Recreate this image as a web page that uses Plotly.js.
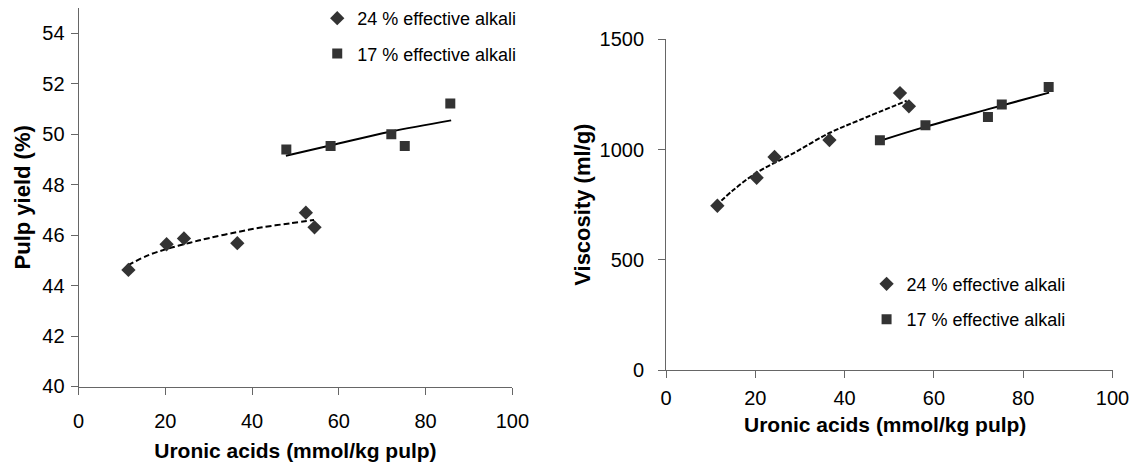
<!DOCTYPE html>
<html><head><meta charset="utf-8">
<script src="https://cdn.plot.ly/plotly-3.0.1.min.js"></script>
<style>html,body{margin:0;padding:0;background:#fff}</style>
</head><body><div id="chart" style="width:1135px;height:466px"></div>
<script>
// Measured data (uronic acids, mmol/kg pulp)
const ua24 = [11.5, 20.3, 24.3, 36.6, 52.4, 54.4];
const yield24 = [44.62, 45.64, 45.87, 45.68, 46.89, 46.31];
const visc24 = [745, 872, 966, 1043, 1256, 1196];
const ua17 = [47.9, 58.1, 72.1, 75.2, 85.7];
const yield17 = [49.40, 49.53, 50.0, 49.53, 51.22];
const visc17 = [1042, 1110, 1148, 1204, 1284];
// Trend lines
const yieldFit24X = [11.3, 16, 20.3, 25.7, 30, 36.5, 42, 48.8, 54.3];
const yieldFit24Y = [44.8, 45.2, 45.45, 45.7, 45.88, 46.12, 46.3, 46.47, 46.6];
const yieldFit17X = [47.8, 58, 71.8, 85.9];
const yieldFit17Y = [49.15, 49.55, 50.1, 50.55];
const viscFit24X = [11.2, 15, 20.3, 28.5, 36.7, 43.4, 53.9];
const viscFit24Y = [745, 815, 895, 983, 1076, 1134, 1221];
const viscFit17X = [47.8, 58.2, 72, 85.8];
const viscFit17Y = [1039, 1104, 1182, 1258];
// Labels
const name24 = '24 % effective alkali';
const name17 = '17 % effective alkali';
const xTitle = 'Uronic acids (mmol/kg pulp)';
const yTitleLeft = 'Pulp yield (%)';
const yTitleRight = 'Viscosity (ml/g)';

const markColor = '#333333';
const FONT = 'Liberation Sans, Arial, sans-serif';

const traces = [
  {x: yieldFit24X, y: yieldFit24Y, mode: 'lines', line: {color: '#000', width: 2, dash: '6px,3px', shape: 'spline'}, showlegend: false, hoverinfo: 'skip', xaxis: 'x', yaxis: 'y'},
  {x: yieldFit17X, y: yieldFit17Y, mode: 'lines', line: {color: '#000', width: 2, shape: 'spline'}, showlegend: false, hoverinfo: 'skip', xaxis: 'x', yaxis: 'y'},
  {x: ua24, y: yield24, mode: 'markers', name: name24, legendgroup: 'a', marker: {symbol: 'diamond', size: 11, color: markColor}, xaxis: 'x', yaxis: 'y', legend: 'legend'},
  {x: ua17, y: yield17, mode: 'markers', name: name17, legendgroup: 'b', marker: {symbol: 'square', size: 10, color: markColor}, xaxis: 'x', yaxis: 'y', legend: 'legend'},

  {x: viscFit24X, y: viscFit24Y, mode: 'lines', line: {color: '#000', width: 2, dash: '5px,2px', shape: 'spline'}, showlegend: false, hoverinfo: 'skip', xaxis: 'x2', yaxis: 'y2'},
  {x: viscFit17X, y: viscFit17Y, mode: 'lines', line: {color: '#000', width: 2, shape: 'spline'}, showlegend: false, hoverinfo: 'skip', xaxis: 'x2', yaxis: 'y2'},
  {x: ua24, y: visc24, mode: 'markers', name: name24, legendgroup: 'c', marker: {symbol: 'diamond', size: 11, color: markColor}, xaxis: 'x2', yaxis: 'y2', legend: 'legend2'},
  {x: ua17, y: visc17, mode: 'markers', name: name17, legendgroup: 'd', marker: {symbol: 'square', size: 10, color: markColor}, xaxis: 'x2', yaxis: 'y2', legend: 'legend2'}
];

const axisCommon = {
  showline: true, linecolor: '#666', linewidth: 1,
  ticks: 'outside', ticklen: 7, tickcolor: '#666', tickwidth: 1,
  showgrid: false, zeroline: false,
  tickfont: {family: FONT, size: 20, color: '#000'}
};
const titleFont = {family: FONT, size: 21, color: '#000', weight: 'bold'};
const yTitleFont = {family: FONT, size: 22, color: '#000', weight: 'bold'};

const layout = {
  width: 1135, height: 466,
  margin: {l: 0, r: 0, t: 0, b: 0},
  paper_bgcolor: '#fff', plot_bgcolor: '#fff',
  font: {family: FONT, color: '#000'},
  xaxis: Object.assign({}, axisCommon, {domain: [0.0692, 0.4514], range: [0, 100], tick0: 0, dtick: 20, anchor: 'y',
    ticklabelstandoff: 9,
    title: {text: '<b>' + xTitle + '</b>', font: titleFont, standoff: 12}}),
  yaxis: Object.assign({}, axisCommon, {domain: [0.1706, 0.9826], range: [40, 55], tick0: 40, dtick: 2, anchor: 'x',
    ticklabelstandoff: 2,
    title: {text: '<b>' + yTitleLeft + '</b>', font: yTitleFont, standoff: 5}}),
  xaxis2: Object.assign({}, axisCommon, {domain: [0.5868, 0.9802], range: [0, 100], tick0: 0, dtick: 20, anchor: 'y2',
    ticklabelstandoff: 3}),
  yaxis2: Object.assign({}, axisCommon, {domain: [0.206, 0.9157], range: [0, 1500], tick0: 0, dtick: 500, anchor: 'x2',
    ticklabelstandoff: 10,
    title: {text: '<b>' + yTitleRight + '</b>', font: yTitleFont, standoff: 2}}),
  annotations: [
    {text: '<b>' + xTitle + '</b>', font: titleFont, xref: 'x2 domain', x: 0.49, yref: 'paper', y: 1 - 424 / 466,
     xanchor: 'center', yanchor: 'middle', showarrow: false}
  ],
  legend: {x: 0.2795, y: 1.0, xanchor: 'left', yanchor: 'top', bgcolor: 'rgba(0,0,0,0)',
    font: {family: FONT, size: 18, color: '#000'}, traceorder: 'grouped', tracegroupgap: 9, itemwidth: 30},
  legend2: {x: 0.7635, y: 0.43, xanchor: 'left', yanchor: 'top', bgcolor: 'rgba(0,0,0,0)',
    font: {family: FONT, size: 18, color: '#000'}, traceorder: 'grouped', tracegroupgap: 9, itemwidth: 30},
  showlegend: true
};

Plotly.newPlot('chart', traces, layout, {displayModeBar: false, responsive: false});
</script>
</body></html>
